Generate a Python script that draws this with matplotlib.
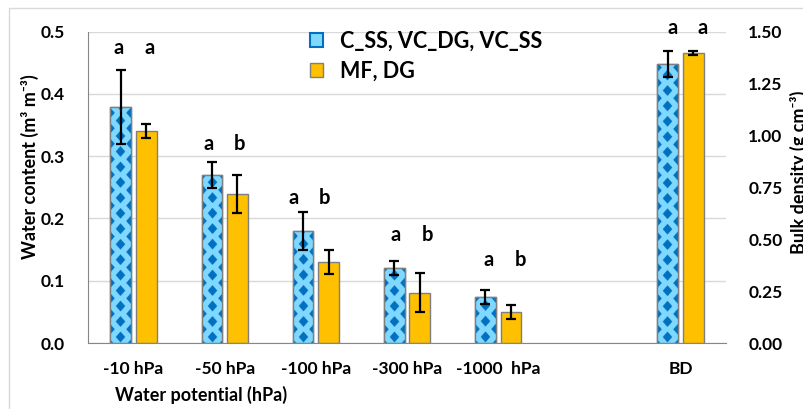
import numpy as np
import matplotlib
matplotlib.use("Agg")
import matplotlib.pyplot as plt
from matplotlib.patches import Patch, Rectangle

# ---------------- data ----------------
categories = ['-10 hPa', '-50 hPa', '-100 hPa', '-300 hPa', '-1000  hPa', '', 'BD']
series_names = ['C_SS, VC_DG, VC_SS', 'MF, DG']

wc_blue = [0.379, 0.270, 0.180, 0.120, 0.074]
wc_blue_err = [0.060, 0.021, 0.030, 0.011, 0.011]
wc_orange = [0.340, 0.239, 0.130, 0.081, 0.050]
wc_orange_err = [0.011, 0.030, 0.020, 0.031, 0.011]

bd_blue = [1.343]
bd_blue_err = [0.062]
bd_orange = [1.396]
bd_orange_err = [0.010]

letters_blue = ['a', 'a', 'a', 'a', 'a', 'a']
letters_orange = ['a', 'b', 'b', 'b', 'b', 'a']
letters_y_wc = [0.474, 0.320, 0.232, 0.173, 0.133]
letters_y_bd = [1.515]

left_ticks = [0.0, 0.1, 0.2, 0.3, 0.4, 0.5]
right_ticks = [0.0, 0.25, 0.5, 0.75, 1.0, 1.25, 1.5]

# ---------------- style ----------------
FONT = ['Lato', 'DejaVu Sans']
plt.rcParams['font.family'] = FONT
plt.rcParams['font.weight'] = 'bold'
LIGHT = '#80D8FF'
DARK = '#0070C0'
ORANGE = '#FFC000'
EDGE = '#7F7F7F'
GRID = '#D9D9D9'
BW = 0.227
OFF = 0.14
TICK_FS = 12.5
letter_dx_blue = [-0.16, -0.18, -0.24, -0.13, -0.10, -0.09]
letter_dx_orange = [0.18, 0.16, 0.10, 0.22, 0.25, 0.24]

fig = plt.figure(figsize=(8.04, 4.09), dpi=100)
W, H = 804, 409
ax = fig.add_axes([88 / W, 1 - 343 / H, (726 - 88) / W, (343 - 31.5) / H])
ax2 = ax.twinx()
ax2.set_position(ax.get_position())

fig.patches.append(Rectangle((9 / W, -0.05), 1.2, 1 - 8 / H + 0.05, transform=fig.transFigure,
                             fill=False, edgecolor=GRID, linewidth=1, zorder=0))

x = np.arange(len(categories))
ax.set_xlim(-0.5, len(categories) - 0.5)
ax.set_ylim(0, 0.5)
ax2.set_xlim(-0.5, len(categories) - 0.5)
ax2.set_ylim(0, 1.5)

ax.set_yticks(left_ticks)
ax.set_yticklabels([f'{t:.1f}' for t in left_ticks])
ax2.set_yticks(right_ticks)
ax2.set_yticklabels([f'{t:.2f}' for t in right_ticks])
ax.set_xticks(x)
ax.set_xticklabels(categories)

ax.grid(axis='y', color=GRID, linewidth=1)
ax.set_axisbelow(True)
for s in ['top', 'right']:
    ax.spines[s].set_visible(False)
ax.spines['left'].set_color('#868686')
ax.spines['bottom'].set_color('#868686')
for s in ax2.spines.values():
    s.set_visible(False)
ax.tick_params(axis='both', length=0, labelsize=TICK_FS)
ax.tick_params(axis='y', pad=17)
ax.tick_params(axis='x', pad=13)
ax2.tick_params(axis='y', length=0, labelsize=TICK_FS, pad=16)
for lab in ax.get_xticklabels() + ax.get_yticklabels() + ax2.get_yticklabels():
    lab.set_fontweight('bold')

n = len(wc_blue)
eb = dict(ecolor='black', elinewidth=1.6, capsize=3.5, capthick=1.6)
bars_b = ax.bar(x[:n] - OFF, wc_blue, BW, color=LIGHT, edgecolor=EDGE, linewidth=1,
                yerr=wc_blue_err, error_kw=eb, zorder=2)
bars_o = ax.bar(x[:n] + OFF, wc_orange, BW, color=ORANGE, edgecolor=EDGE, linewidth=1,
                yerr=wc_orange_err, error_kw=eb, zorder=2)
bd_x = x[-1:]
bars_b2 = ax2.bar(bd_x - OFF, bd_blue, BW, color=LIGHT, edgecolor=EDGE, linewidth=1,
                  yerr=bd_blue_err, error_kw=eb, zorder=2)
bars_o2 = ax2.bar(bd_x + OFF, bd_orange, BW, color=ORANGE, edgecolor=EDGE, linewidth=1,
                  yerr=bd_orange_err, error_kw=eb, zorder=2)


def diamond_fill(axis, rect, hp=7.7, a=4.7, b=5.4, phase=6.0):
    """Fill a bar with a diamond-checker pattern (pixel-based texture)."""
    x0, y0 = rect.get_x(), rect.get_y()
    w, h = rect.get_width(), rect.get_height()
    (px0, py0), (px1, py1) = axis.transData.transform([(x0, y0), (x0 + w, y0 + h)])
    wpx, hpx = abs(px1 - px0), abs(py1 - py0)
    hw = wpx / 2
    ss = 4
    nx, ny = max(int(wpx * ss), 2), max(int(hpx * ss), 2)
    xs = (np.arange(nx) + 0.5) / nx * wpx
    ys = (np.arange(ny) + 0.5) / ny * hpx
    X, Y = np.meshgrid(xs, ys[::-1])   # Y measured from bar bottom
    Yc = Y - phase

    def dist(cx, cy):
        dx = (X - cx) - 2 * hw * np.round((X - cx) / (2 * hw))
        dy = (Yc - cy) - 2 * hp * np.round((Yc - cy) / (2 * hp))
        return np.abs(dx) / a + np.abs(dy) / b

    d = np.minimum(dist(hw, 0.0), dist(0.0, hp))
    img = np.empty((ny, nx, 3))
    img[:] = matplotlib.colors.to_rgb(LIGHT)
    img[d < 1] = matplotlib.colors.to_rgb(DARK)
    im = axis.imshow(img, extent=(x0, x0 + w, y0, y0 + h), aspect='auto',
                     interpolation='antialiased', zorder=2.1)
    im.set_clip_path(rect)
    axis.add_patch(Rectangle((x0, y0), w, h, fill=False, edgecolor=EDGE, linewidth=1, zorder=2.2))


for r in list(bars_b) + list(bars_b2):
    diamond_fill(r.axes, r)
ax.set_xlim(-0.5, len(categories) - 0.5)
ax.set_ylim(0, 0.5)
ax2.set_xlim(-0.5, len(categories) - 0.5)
ax2.set_ylim(0, 1.5)
for c in ax.containers + ax2.containers:
    if hasattr(c, 'errorbar') and c.errorbar is not None:
        for art in c.errorbar.lines[1] + c.errorbar.lines[2]:
            art.set_zorder(3)

LET_FS = 14.5
for i in range(n):
    ax.text(x[i] + letter_dx_blue[i], letters_y_wc[i], letters_blue[i], ha='center', va='center',
            fontsize=LET_FS, fontweight='bold')
    ax.text(x[i] + letter_dx_orange[i], letters_y_wc[i], letters_orange[i], ha='center', va='center',
            fontsize=LET_FS, fontweight='bold')
ax2.text(bd_x[0] + letter_dx_blue[5], letters_y_bd[0], letters_blue[5], ha='center', va='center',
         fontsize=LET_FS, fontweight='bold')
ax2.text(bd_x[0] + letter_dx_orange[5], letters_y_bd[0], letters_orange[5], ha='center', va='center',
         fontsize=LET_FS, fontweight='bold')

fig.text(201.5 / W, 1 - 395 / H, 'Water potential (hPa)', ha='center', va='center',
         fontsize=13, fontweight='bold')
fig.text(30 / W, 1 - 167 / H, 'Water content (m³ m⁻³)', ha='center', va='center',
         rotation=90, fontsize=13, fontweight='bold', family=FONT)
fig.text(799 / W, 1 - 172 / H, 'Bulk density (g cm⁻³)', ha='center', va='center',
         rotation=90, fontsize=13, fontweight='bold', family=FONT)

handles = [Patch(facecolor=LIGHT, edgecolor=DARK, linewidth=1.5),
           Patch(facecolor=ORANGE, edgecolor=EDGE, linewidth=1)]
leg = fig.legend(handles, series_names, loc='upper left', bbox_to_anchor=(299 / W, 1 - 20 / H),
                 frameon=False, prop=dict(size=15.5, weight='bold'), handlelength=0.62,
                 handleheight=0.62, handletextpad=0.8, labelspacing=0.4, borderpad=0)

fig.savefig('out.png', dpi=100)
